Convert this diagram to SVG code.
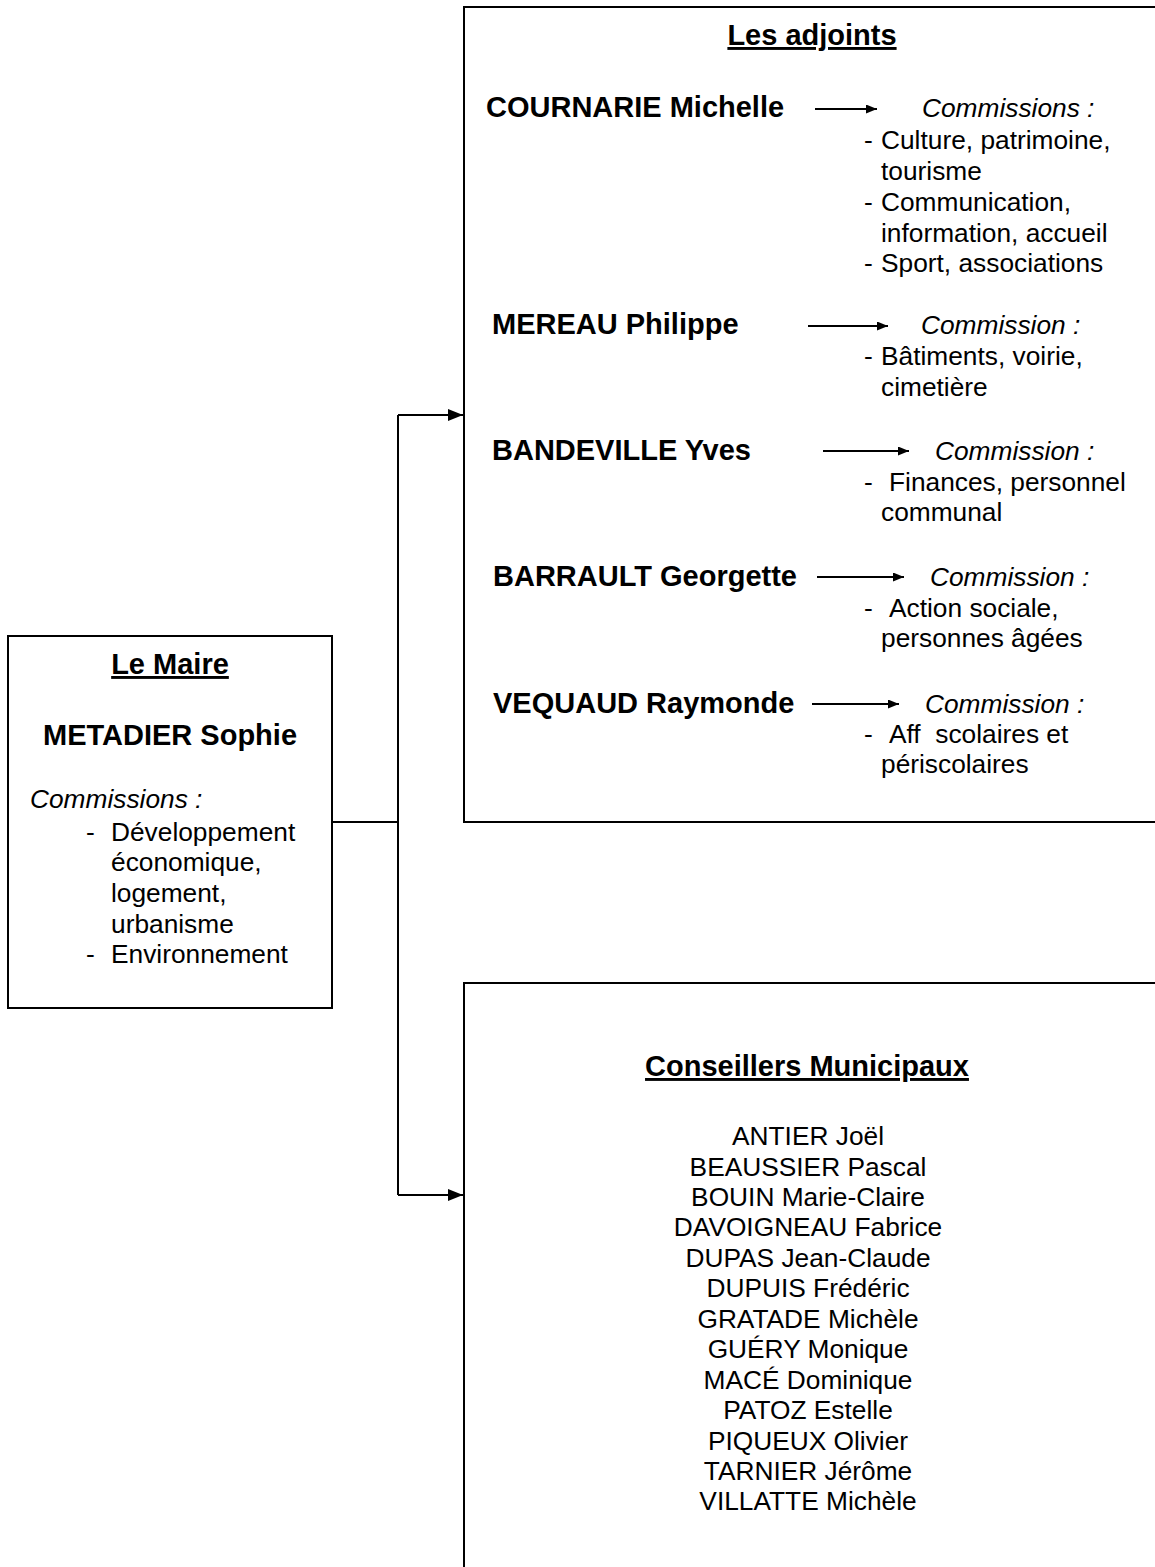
<svg xmlns="http://www.w3.org/2000/svg" width="1155" height="1567" viewBox="0 0 1155 1567">
<defs>
<style>
.box{fill:#fff;stroke:#000;stroke-width:2}
.ln{fill:none;stroke:#000;stroke-width:2}
.t{font-family:"Liberation Sans",Arial,sans-serif;font-size:26.3px;fill:#000}
.b{font-family:"Liberation Sans",Arial,sans-serif;font-size:29px;font-weight:bold;fill:#000}
.i{font-style:italic}
.u{text-decoration:underline}
.c{text-anchor:middle}
</style>
<marker id="big" markerWidth="15" markerHeight="12" refX="15" refY="6" orient="auto" markerUnits="userSpaceOnUse">
<path d="M0,0 L15,6 L0,12 Z" fill="#000"/>
</marker>
<marker id="sm" markerWidth="11" markerHeight="9" refX="11" refY="4.5" orient="auto" markerUnits="userSpaceOnUse">
<path d="M0,0 L11,4.5 L0,9 Z" fill="#000"/>
</marker>
</defs>
<rect width="1155" height="1567" fill="#fff"/>

<g id="maire">
<rect class="box" x="8" y="636" width="324" height="372"/>
<text class="b u c" x="170" y="674">Le Maire</text>
<text class="b c" x="170" y="745">METADIER Sophie</text>
<text class="t i" x="30" y="808">Commissions :</text>
<text class="t" x="86" y="841">-</text>
<text class="t" x="111" y="841">Développement</text>
<text class="t" x="111" y="871">économique,</text>
<text class="t" x="111" y="902">logement,</text>
<text class="t" x="111" y="933">urbanisme</text>
<text class="t" x="86" y="963">-</text>
<text class="t" x="111" y="963">Environnement</text>
</g>

<g id="adjoints">
<rect class="box" x="464" y="7" width="700" height="815"/>
<text class="b u c" x="812" y="45">Les adjoints</text>
<g id="cournarie">
<text class="b" x="486" y="117">COURNARIE Michelle</text>
<text class="t i" x="922" y="117">Commissions :</text>
<text class="t" x="864" y="149">-</text>
<text class="t" x="881" y="149">Culture, patrimoine,</text>
<text class="t" x="881" y="180">tourisme</text>
<text class="t" x="864" y="211">-</text>
<text class="t" x="881" y="211">Communication,</text>
<text class="t" x="881" y="242">information, accueil</text>
<text class="t" x="864" y="272">-</text>
<text class="t" x="881" y="272">Sport, associations</text>
</g>
<g id="mereau">
<text class="b" x="492" y="334">MEREAU Philippe</text>
<text class="t i" x="921" y="334">Commission :</text>
<text class="t" x="864" y="365">-</text>
<text class="t" x="881" y="365">Bâtiments, voirie,</text>
<text class="t" x="881" y="396">cimetière</text>
</g>
<g id="bandeville">
<text class="b" x="492" y="460">BANDEVILLE Yves</text>
<text class="t i" x="935" y="460">Commission :</text>
<text class="t" x="864" y="491">-</text>
<text class="t" x="889" y="491">Finances, personnel</text>
<text class="t" x="881" y="521">communal</text>
</g>
<g id="barrault">
<text class="b" x="493" y="586">BARRAULT Georgette</text>
<text class="t i" x="930" y="586">Commission :</text>
<text class="t" x="864" y="617">-</text>
<text class="t" x="889" y="617">Action sociale,</text>
<text class="t" x="881" y="647">personnes âgées</text>
</g>
<g id="vequaud">
<text class="b" x="493" y="713">VEQUAUD Raymonde</text>
<text class="t i" x="925" y="713">Commission :</text>
<text class="t" x="864" y="743">-</text>
<text class="t" x="889" y="743" xml:space="preserve">Aff  scolaires et</text>
<text class="t" x="881" y="773">périscolaires</text>
</g>
</g>

<g id="conseillers">
<rect class="box" x="464" y="983" width="700" height="600"/>
<text class="b u c" x="807" y="1076">Conseillers Municipaux</text>
<text class="t c" x="808" y="1145">ANTIER Joël</text>
<text class="t c" x="808" y="1176">BEAUSSIER Pascal</text>
<text class="t c" x="808" y="1206">BOUIN Marie-Claire</text>
<text class="t c" x="808" y="1236">DAVOIGNEAU Fabrice</text>
<text class="t c" x="808" y="1267">DUPAS Jean-Claude</text>
<text class="t c" x="808" y="1297">DUPUIS Frédéric</text>
<text class="t c" x="808" y="1328">GRATADE Michèle</text>
<text class="t c" x="808" y="1358">GUÉRY Monique</text>
<text class="t c" x="808" y="1389">MACÉ Dominique</text>
<text class="t c" x="808" y="1419">PATOZ Estelle</text>
<text class="t c" x="808" y="1450">PIQUEUX Olivier</text>
<text class="t c" x="808" y="1480">TARNIER Jérôme</text>
<text class="t c" x="808" y="1510">VILLATTE Michèle</text>
</g>

<g id="connectors">
<path class="ln" d="M332,822 H398"/>
<path class="ln" d="M398,415 V1195"/>
<path class="ln" d="M398,415 H463" marker-end="url(#big)"/>
<path class="ln" d="M398,1195 H463" marker-end="url(#big)"/>
<path class="ln" d="M815,109 H877" marker-end="url(#sm)"/>
<path class="ln" d="M808,326 H888" marker-end="url(#sm)"/>
<path class="ln" d="M823,451 H909" marker-end="url(#sm)"/>
<path class="ln" d="M817,577 H904" marker-end="url(#sm)"/>
<path class="ln" d="M812,704 H899" marker-end="url(#sm)"/>
</g>
</svg>
